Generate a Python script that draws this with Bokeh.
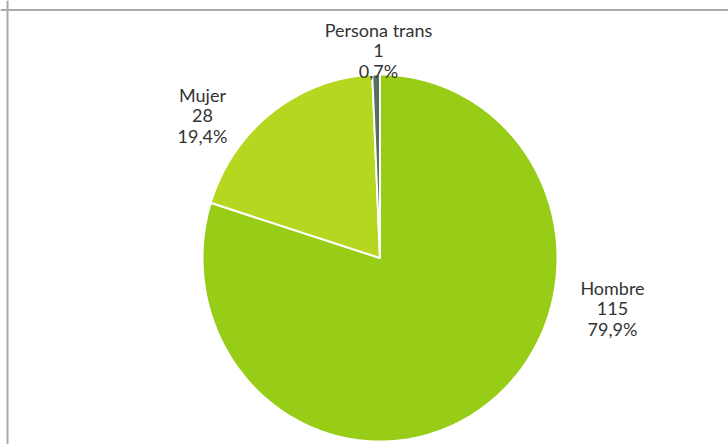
import numpy as np
from bokeh.plotting import figure, ColumnDataSource
from bokeh.models import Range1d, Span
from bokeh.core.properties import value
from bokeh.embed import file_html
from bokeh.resources import INLINE

# ---- data ----
categories = ["Hombre", "Mujer", "Persona trans"]
counts = [115, 28, 1]
colors = ["#97CD17", "#B6D71F", "#56705F"]

# ---- layout (page pixel coords, y down) ----
W, H = 728, 444
CX, CY = 379.5, 257.5
RX, RY = 177.5, 183.5
# label anchor: centre x, baseline of first line
label_anchor = {"Hombre": (612, 287), "Mujer": (202, 94), "Persona trans": (378, 29)}
LINE_STEP = 20.5

p = figure(width=W, height=H, output_backend="svg", toolbar_location=None,
           x_range=Range1d(0, W), y_range=Range1d(H, 0), min_border=0)
p.axis.visible = False
p.grid.visible = False
p.outline_line_color = None
p.background_fill_color = "white"
p.border_fill_color = "white"

total = float(sum(counts))
fracs = [c / total for c in counts]
starts = np.cumsum([0.0] + fracs[:-1])

xs, ys = [], []
for s, f in zip(starts, fracs):
    th = np.linspace(s * 2 * np.pi, (s + f) * 2 * np.pi, max(8, int(f * 720)))
    xs.append(np.concatenate([[CX], CX + RX * np.sin(th)]).tolist())
    ys.append(np.concatenate([[CY], CY - RY * np.cos(th)]).tolist())

src = ColumnDataSource(dict(xs=xs, ys=ys, color=colors, cat=categories))
p.patches("xs", "ys", source=src, fill_color="color", line_color="white", line_width=2)

tx, ty, tt = [], [], []
for cat, c in zip(categories, counts):
    pct = f"{100 * c / total:.1f}".replace(".", ",") + "%"
    ax, ay = label_anchor[cat]
    for i, line in enumerate([cat, str(c), pct]):
        tx.append(ax)
        ty.append(ay + i * LINE_STEP)
        tt.append(line)
lsrc = ColumnDataSource(dict(x=tx, y=ty, text=tt))
p.text("x", "y", text="text", source=lsrc, text_font=value("Lato"), text_font_size="18px",
       text_color="#333333", text_align="center", text_baseline="alphabetic")

# chart frame (top and left edges visible)
p.add_layout(Span(location=9.5, dimension="width", line_color="#aaaaaa", line_width=2))
p.add_layout(Span(location=7, dimension="height", line_color="#aaaaaa", line_width=2))

open("out.html", "w").write(file_html(p, INLINE))
